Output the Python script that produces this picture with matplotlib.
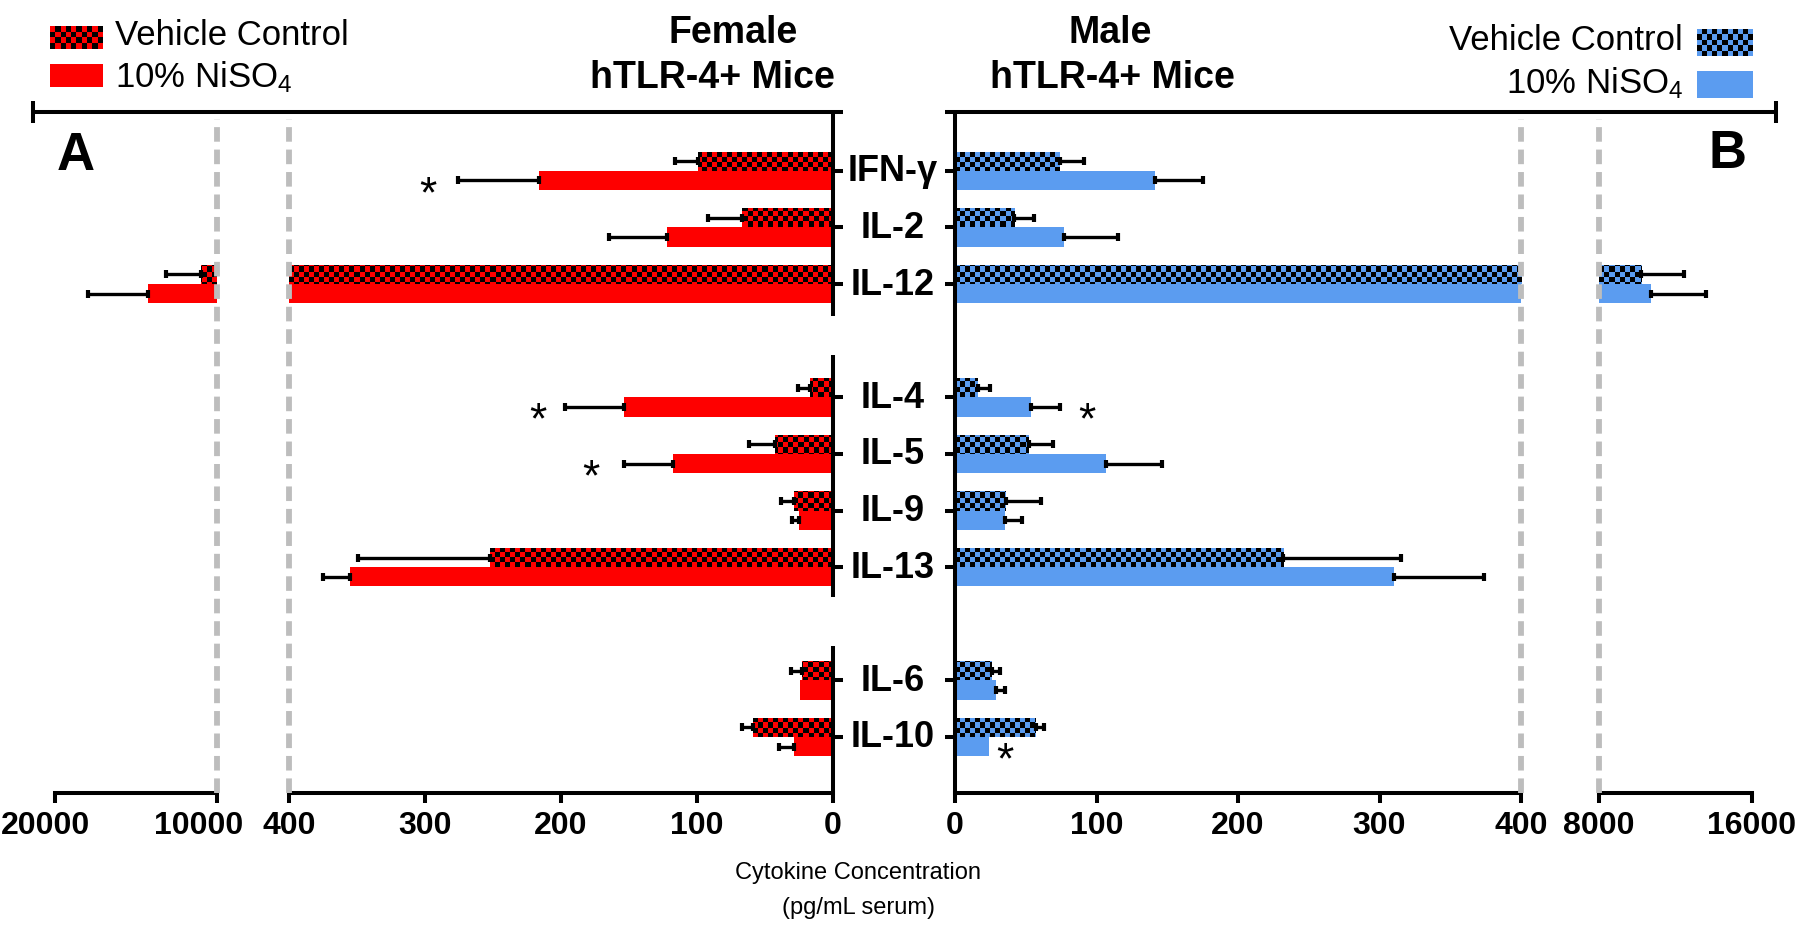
import numpy as np
import matplotlib
matplotlib.use("Agg")
import matplotlib.pyplot as plt
from matplotlib.colors import to_rgb
from matplotlib.lines import Line2D
from matplotlib.transforms import blended_transform_factory, ScaledTranslation

plt.rcParams['font.family'] = ['Liberation Sans', 'DejaVu Sans']
plt.rcParams['mathtext.fontset'] = 'custom'
plt.rcParams['mathtext.rm'] = 'Liberation Sans'
plt.rcParams['mathtext.it'] = 'Liberation Sans:italic'
plt.rcParams['mathtext.bf'] = 'Liberation Sans:bold'

# data (pg/mL serum)
cytokines = ["IFN-γ", "IL-2", "IL-12", "IL-4", "IL-5", "IL-9", "IL-13", "IL-6", "IL-10"]
slots = [0, 1, 2, 4, 5, 6, 7, 9, 10]

female_vc = [99, 67, 10980, 17, 43, 29, 252, 23, 59]
female_vc_err = [17, 25, 2150, 9, 19, 9, 97, 8, 8]
female_ni = [216, 122, 14290, 154, 118, 25, 355, 24, 29]
female_ni_err = [60, 43, 3690, 43, 36, 5, 20, np.nan, 11]

male_vc = [74, 42, 10200, 16, 52, 36, 232, 26, 57]
male_vc_err = [17, 14, 2240, 9, 17, 25, 83, 6, 6]
male_ni = [141, 77, 10720, 54, 107, 35, 310, 29, 24]
male_ni_err = [34, 38, 2880, 20, 39, 12, 64, 6, np.nan]

female_stars = [(298, 0), (217, 4), (178, 5)]
male_stars = [(93, 4), (35, 10)]

RED = "#fe0000"
BLUE = "#5b9cf0"
GREY = "#bdbdbd"

W, H = 1797, 928
TOP, BOT = 113, 794
YLIM = (10.99, -1.04)
h = 0.34
LW = 2.9
CELL = 5.0

fig = plt.figure(figsize=(W / 100, H / 100), dpi=100)


def rect(x0, x1, y0=TOP, y1=BOT):
    return [x0 / W, 1 - y1 / H, (x1 - x0) / W, (y1 - y0) / H]


def checker(nx, ny, color):
    c = (np.add.outer(np.arange(ny), np.arange(nx)) % 2).astype(bool)
    return np.where(c[..., None], np.zeros(3), np.array(to_rgb(color)))


def panel(ax, lim, ticks, vc, vc_err, ni, ni_err, color):
    ax.set_xlim(lim)
    ax.set_ylim(YLIM)
    y = np.array(slots, dtype=float)
    bars = ax.barh(y - h / 2, vc, height=h, color=color, lw=0, zorder=2)
    ax.barh(y + h / 2, ni, height=h, color=color, lw=0, zorder=2)
    bb = ax.get_position()
    nx, ny = int(bb.width * W / CELL), int(bb.height * H / CELL)
    img = checker(nx, ny, color)
    for b in bars:
        im = ax.imshow(img, extent=(lim[0], lim[1], YLIM[0], YLIM[1]), aspect='auto',
                       interpolation='nearest', zorder=2.5)
        im.set_clip_path(b)
    for vals, errs, yy in [(vc, vc_err, y - h / 2), (ni, ni_err, y + h / 2)]:
        vals, errs = np.array(vals, float), np.array(errs, float)
        ok = ~np.isnan(errs)
        ax.errorbar(vals[ok], yy[ok], xerr=[np.zeros(ok.sum()), errs[ok]], fmt='none',
                    ecolor='black', elinewidth=2.4, capsize=3.2, capthick=3.0, zorder=3)
    ax.set_xlim(lim)
    ax.set_ylim(YLIM)
    for s in ['top', 'left', 'right']:
        ax.spines[s].set_visible(False)
    ax.spines['bottom'].set_linewidth(LW)
    ax.set_xticks(ticks)
    ax.set_xticklabels([str(t) for t in ticks], fontsize=23, fontweight='bold')
    ax.tick_params(axis='x', direction='out', length=7.5, width=LW, pad=5)
    ax.set_yticks([])
    ax.patch.set_alpha(0)


ax_l2 = fig.add_axes(rect(55, 217))
ax_l1 = fig.add_axes(rect(289, 833))
ax_r1 = fig.add_axes(rect(955, 1521))
ax_r2 = fig.add_axes(rect(1599, 1752))

panel(ax_l2, (20000, 10000), [20000, 10000], female_vc, female_vc_err, female_ni, female_ni_err, RED)
panel(ax_l1, (400, 0), [400, 300, 200, 100, 0], female_vc, female_vc_err, female_ni, female_ni_err, RED)
panel(ax_r1, (0, 400), [0, 100, 200, 300, 400], male_vc, male_vc_err, male_ni, male_ni_err, BLUE)
panel(ax_r2, (8000, 16000), [8000, 16000], male_vc, male_vc_err, male_ni, male_ni_err, BLUE)

# the break-axis labels on the left sit a little to the left of their ticks
for lab, dx in zip(ax_l2.get_xticklabels(), [-0.09, -0.18]):
    lab.set_transform(lab.get_transform() + ScaledTranslation(dx, 0, fig.dpi_scale_trans))

# end caps on the bottom axes
for ax, caps in [(ax_l2, [20000, 10000]), (ax_l1, [400]), (ax_r1, [400]), (ax_r2, [8000, 16000])]:
    ax.set_xticks(caps, minor=True)
    ax.tick_params(axis='x', which='minor', direction='in', length=7.5, width=LW)

# dashed break lines
for ax, xv in [(ax_l2, 10000), (ax_l1, 400), (ax_r1, 400), (ax_r2, 8000)]:
    ax.axvline(xv, ymin=0, ymax=0.99, color=GREY, lw=4.2, ls=(0, (2.5, 1.35)),
               clip_on=False, zorder=4)

# centre spines and category ticks
seg_l = [(YLIM[1], 2.57), (3.25, 7.52), (8.4, YLIM[0])]
for a, b in seg_l:
    ax_l1.plot([0, 0], [a, b], color='black', lw=LW, clip_on=False, zorder=5,
               solid_capstyle='butt')
ax_r1.plot([0, 0], [YLIM[1], YLIM[0]], color='black', lw=LW, clip_on=False, zorder=5,
           solid_capstyle='butt')
ax_l1.yaxis.tick_right()
ax_l1.set_yticks(slots)
ax_l1.set_yticklabels([])
ax_l1.tick_params(axis='y', direction='out', length=7.2, width=LW)
ax_r1.yaxis.tick_left()
ax_r1.set_yticks(slots)
ax_r1.set_yticklabels([])
ax_r1.tick_params(axis='y', direction='out', length=7.2, width=LW)

tr = blended_transform_factory(fig.transFigure, ax_l1.transData)
for name, s in zip(cytokines, slots):
    ax_l1.text(893 / W, s, name, transform=tr, ha='center', va='center',
               fontsize=26, fontweight='bold', clip_on=False)

# significance stars
for xv, s in female_stars:
    ax_l1.text(xv, s + h / 2 + 0.45, "*", ha='center', va='baseline', fontsize=32, clip_on=False)
for xv, s in male_stars:
    ax_r1.text(xv, s + h / 2 + 0.45, "*", ha='center', va='baseline', fontsize=32, clip_on=False)


# top border lines with end caps
def fline(x, y, **kw):
    fig.add_artist(Line2D([v / W for v in x], [1 - v / H for v in y], color='black',
                          lw=LW, solid_capstyle='butt', **kw))


fline([33, 843], [TOP, TOP])
fline([33, 33], [102, 124])
fline([945, 1776], [TOP, TOP])
fline([1776, 1776], [102, 124])


# legends
def swatch(x0, x1, y0, y1, color, check):
    a = fig.add_axes([x0 / W, 1 - y1 / H, (x1 - x0) / W, (y1 - y0) / H])
    a.axis('off')
    if check:
        a.imshow(checker(int((x1 - x0) / CELL), int((y1 - y0) / CELL), color), aspect='auto',
                 interpolation='nearest')
    else:
        a.imshow(np.array(to_rgb(color))[None, None, :], aspect='auto')


swatch(50, 103, 27, 50, RED, True)
swatch(50, 103, 65, 88, RED, False)
fig.text(115 / W, 1 - 45 / H, "Vehicle Control", fontsize=25, va='baseline', ha='left')
fig.text(115 / W, 1 - 87 / H, "10% NiSO$_4$", fontsize=25, va='baseline', ha='left')

swatch(1697, 1753, 30, 57, BLUE, True)
swatch(1697, 1753, 72, 99, BLUE, False)
fig.text(1683 / W, 1 - 50 / H, "Vehicle Control", fontsize=25, va='baseline', ha='right')
fig.text(1683 / W, 1 - 93 / H, "10% NiSO$_4$", fontsize=25, va='baseline', ha='right')

# titles
fig.text(733 / W, 1 - 43 / H, "Female", fontsize=27, fontweight='bold', ha='center', va='baseline')
fig.text(712 / W, 1 - 88 / H, "hTLR-4+ Mice", fontsize=27, fontweight='bold', ha='center', va='baseline')
fig.text(1110 / W, 1 - 43 / H, "Male", fontsize=27, fontweight='bold', ha='center', va='baseline')
fig.text(1112 / W, 1 - 88 / H, "hTLR-4+ Mice", fontsize=27, fontweight='bold', ha='center', va='baseline')

fig.text(76 / W, 1 - 170 / H, "A", fontsize=38, fontweight='bold', ha='center', va='baseline')
fig.text(1728 / W, 1 - 168 / H, "B", fontsize=38, fontweight='bold', ha='center', va='baseline')

fig.text(858 / W, 1 - 873 / H, "Cytokine Concentration", fontsize=17, ha='center', va='center')
fig.text(858 / W, 1 - 908 / H, "(pg/mL serum)", fontsize=17, ha='center', va='center')

fig.savefig("out.png", dpi=100, facecolor='white')
